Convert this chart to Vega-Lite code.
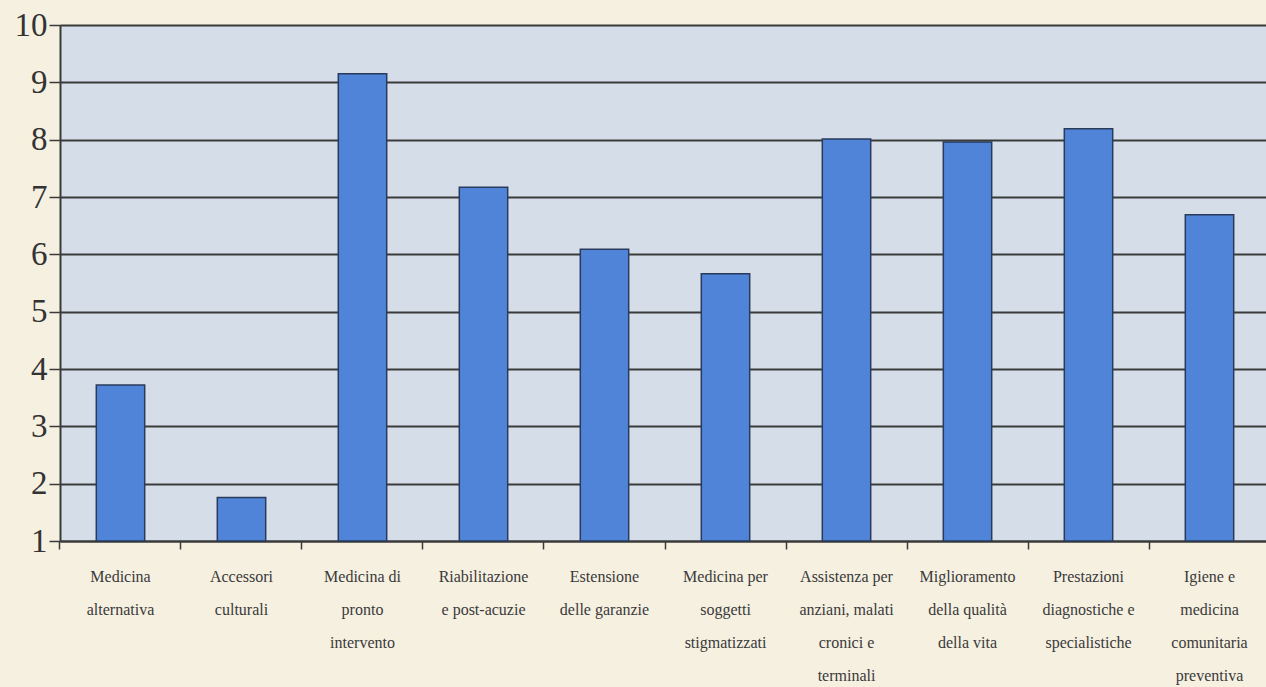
{
  "$schema": "https://vega.github.io/schema/vega-lite/v6.json",
  "width": 1210,
  "height": 516,
  "autosize": {"type": "none"},
  "padding": {"left": 60, "top": 25, "right": 0, "bottom": 146},
  "background": "#f6f0e1",
  "data": {
    "values": [
      {"categoria": "Medicina|alternativa", "valore": 3.72},
      {"categoria": "Accessori|culturali", "valore": 1.76},
      {"categoria": "Medicina di|pronto|intervento", "valore": 9.15},
      {"categoria": "Riabilitazione|e post-acuzie", "valore": 7.17},
      {"categoria": "Estensione|delle garanzie", "valore": 6.09},
      {"categoria": "Medicina per|soggetti|stigmatizzati", "valore": 5.66},
      {"categoria": "Assistenza per|anziani, malati|cronici e|terminali", "valore": 8.01},
      {"categoria": "Miglioramento|della qualità|della vita", "valore": 7.96},
      {"categoria": "Prestazioni|diagnostiche e|specialistiche", "valore": 8.19},
      {"categoria": "Igiene e|medicina|comunitaria|preventiva", "valore": 6.69}
    ]
  },
  "mark": {"type": "bar", "color": "#4f84d8", "stroke": "#2a3a5a", "strokeWidth": 1.5},
  "encoding": {
    "x": {
      "field": "categoria",
      "type": "nominal",
      "sort": null,
      "scale": {"paddingInner": 0.6, "paddingOuter": 0.3},
      "axis": {
        "title": null,
        "labelAngle": 0,
        "labelExpr": "split(datum.value, '|')",
        "labelFont": "Liberation Serif",
        "labelFontSize": 16,
        "labelColor": "#3a3a3a",
        "labelLineHeight": 33,
        "labelPadding": 19,
        "labelBaseline": "top",
        "bandPosition": -0.75,
        "tickColor": "#3a3a3a",
        "tickSize": 8,
        "tickWidth": 1.5,
        "domainColor": "#3a3a3a",
        "domainWidth": 2,
        "grid": false
      }
    },
    "y": {
      "field": "valore",
      "type": "quantitative",
      "scale": {"domain": [1, 10], "nice": false, "zero": false},
      "axis": {
        "title": null,
        "values": [1, 2, 3, 4, 5, 6, 7, 8, 9, 10],
        "labelFont": "Liberation Serif",
        "labelFontSize": 33,
        "labelColor": "#333333",
        "labelPadding": 2,
        "tickColor": "#3a3a3a",
        "tickSize": 11,
        "tickWidth": 1.5,
        "domainColor": "#3a3a3a",
        "domainWidth": 2,
        "grid": true,
        "gridColor": "#3a3a3a",
        "gridWidth": 2
      }
    },
    "y2": {"datum": 1}
  },
  "config": {
    "view": {"fill": "#d5dee8", "stroke": "#8a8f96", "strokeWidth": 1}
  }
}
